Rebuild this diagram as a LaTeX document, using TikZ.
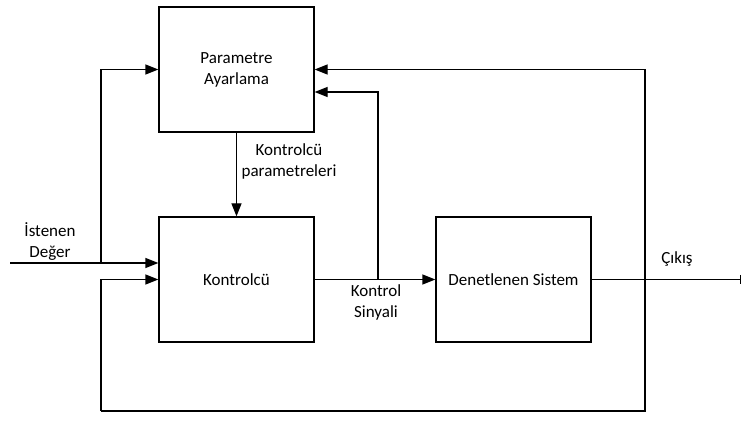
\documentclass[tikz,border=0pt]{standalone}
\usepackage{fontspec}
\setmainfont{Carlito}
\usetikzlibrary{arrows.meta}
\begin{document}
\begin{tikzpicture}[x=1pt,y=-1pt,
  block/.style={draw,line width=1.3pt,minimum width=155pt,minimum height=125pt,
    inner sep=0pt,align=center,font=\fontsize{17}{21}\selectfont},
  lbl/.style={align=center,font=\fontsize{17}{21}\selectfont,inner sep=0pt},
  wire/.style={line width=1.3pt},
  flow/.style={wire,-{Triangle[length=13pt,width=10pt]}}]
\useasboundingbox (0,0) rectangle (742,422);

% blocks
\node[block] (param) at (236.5,69.5) {Parametre\\Ayarlama};
\node[block] (ctrl)  at (236.5,279.5) {Kontrolcü};
\node[block] (plant) at (513.5,279.5) {Denetlenen Sistem};

% junctions and free ends
\coordinate (in)    at (10,263);
\coordinate (jin)   at (101,263);
\coordinate (jsig)  at (378,279.5);
\coordinate (jout)  at (645,279.5);
\coordinate (out)   at (741,279.5);
\coordinate (bot)   at (645,411);
\coordinate (botl)  at (101,411);

% reference input
\draw[flow] (in) -- (ctrl.west |- in);
\draw[flow] (jin) |- (param.west);

% controller parameters
\draw[flow] (param.south) -- (ctrl.north);

% control signal
\draw[flow] (ctrl.east) -- (plant.west);
\draw[flow] (jsig) |- (param.east |- 0,92);

% output and feedback
\draw[wire,-{Bar[width=9pt]}] (plant.east) -- (out);
\draw[flow] (jout) |- (param.east);
\draw[wire] (jout) -- (bot) -- (botl);
\draw[flow] (botl) |- (ctrl.west);

% labels
\node[lbl] (lin) at (50,242) {İstenen\\Değer};
\node[lbl] (lpar) at (289,161) {Kontrolcü\\parametreleri};
\node[lbl] (lsig) at (376,302) {Kontrol\\Sinyali};
\node[lbl] (lout) at (677,259) {Çıkış};
\end{tikzpicture}
\end{document}
